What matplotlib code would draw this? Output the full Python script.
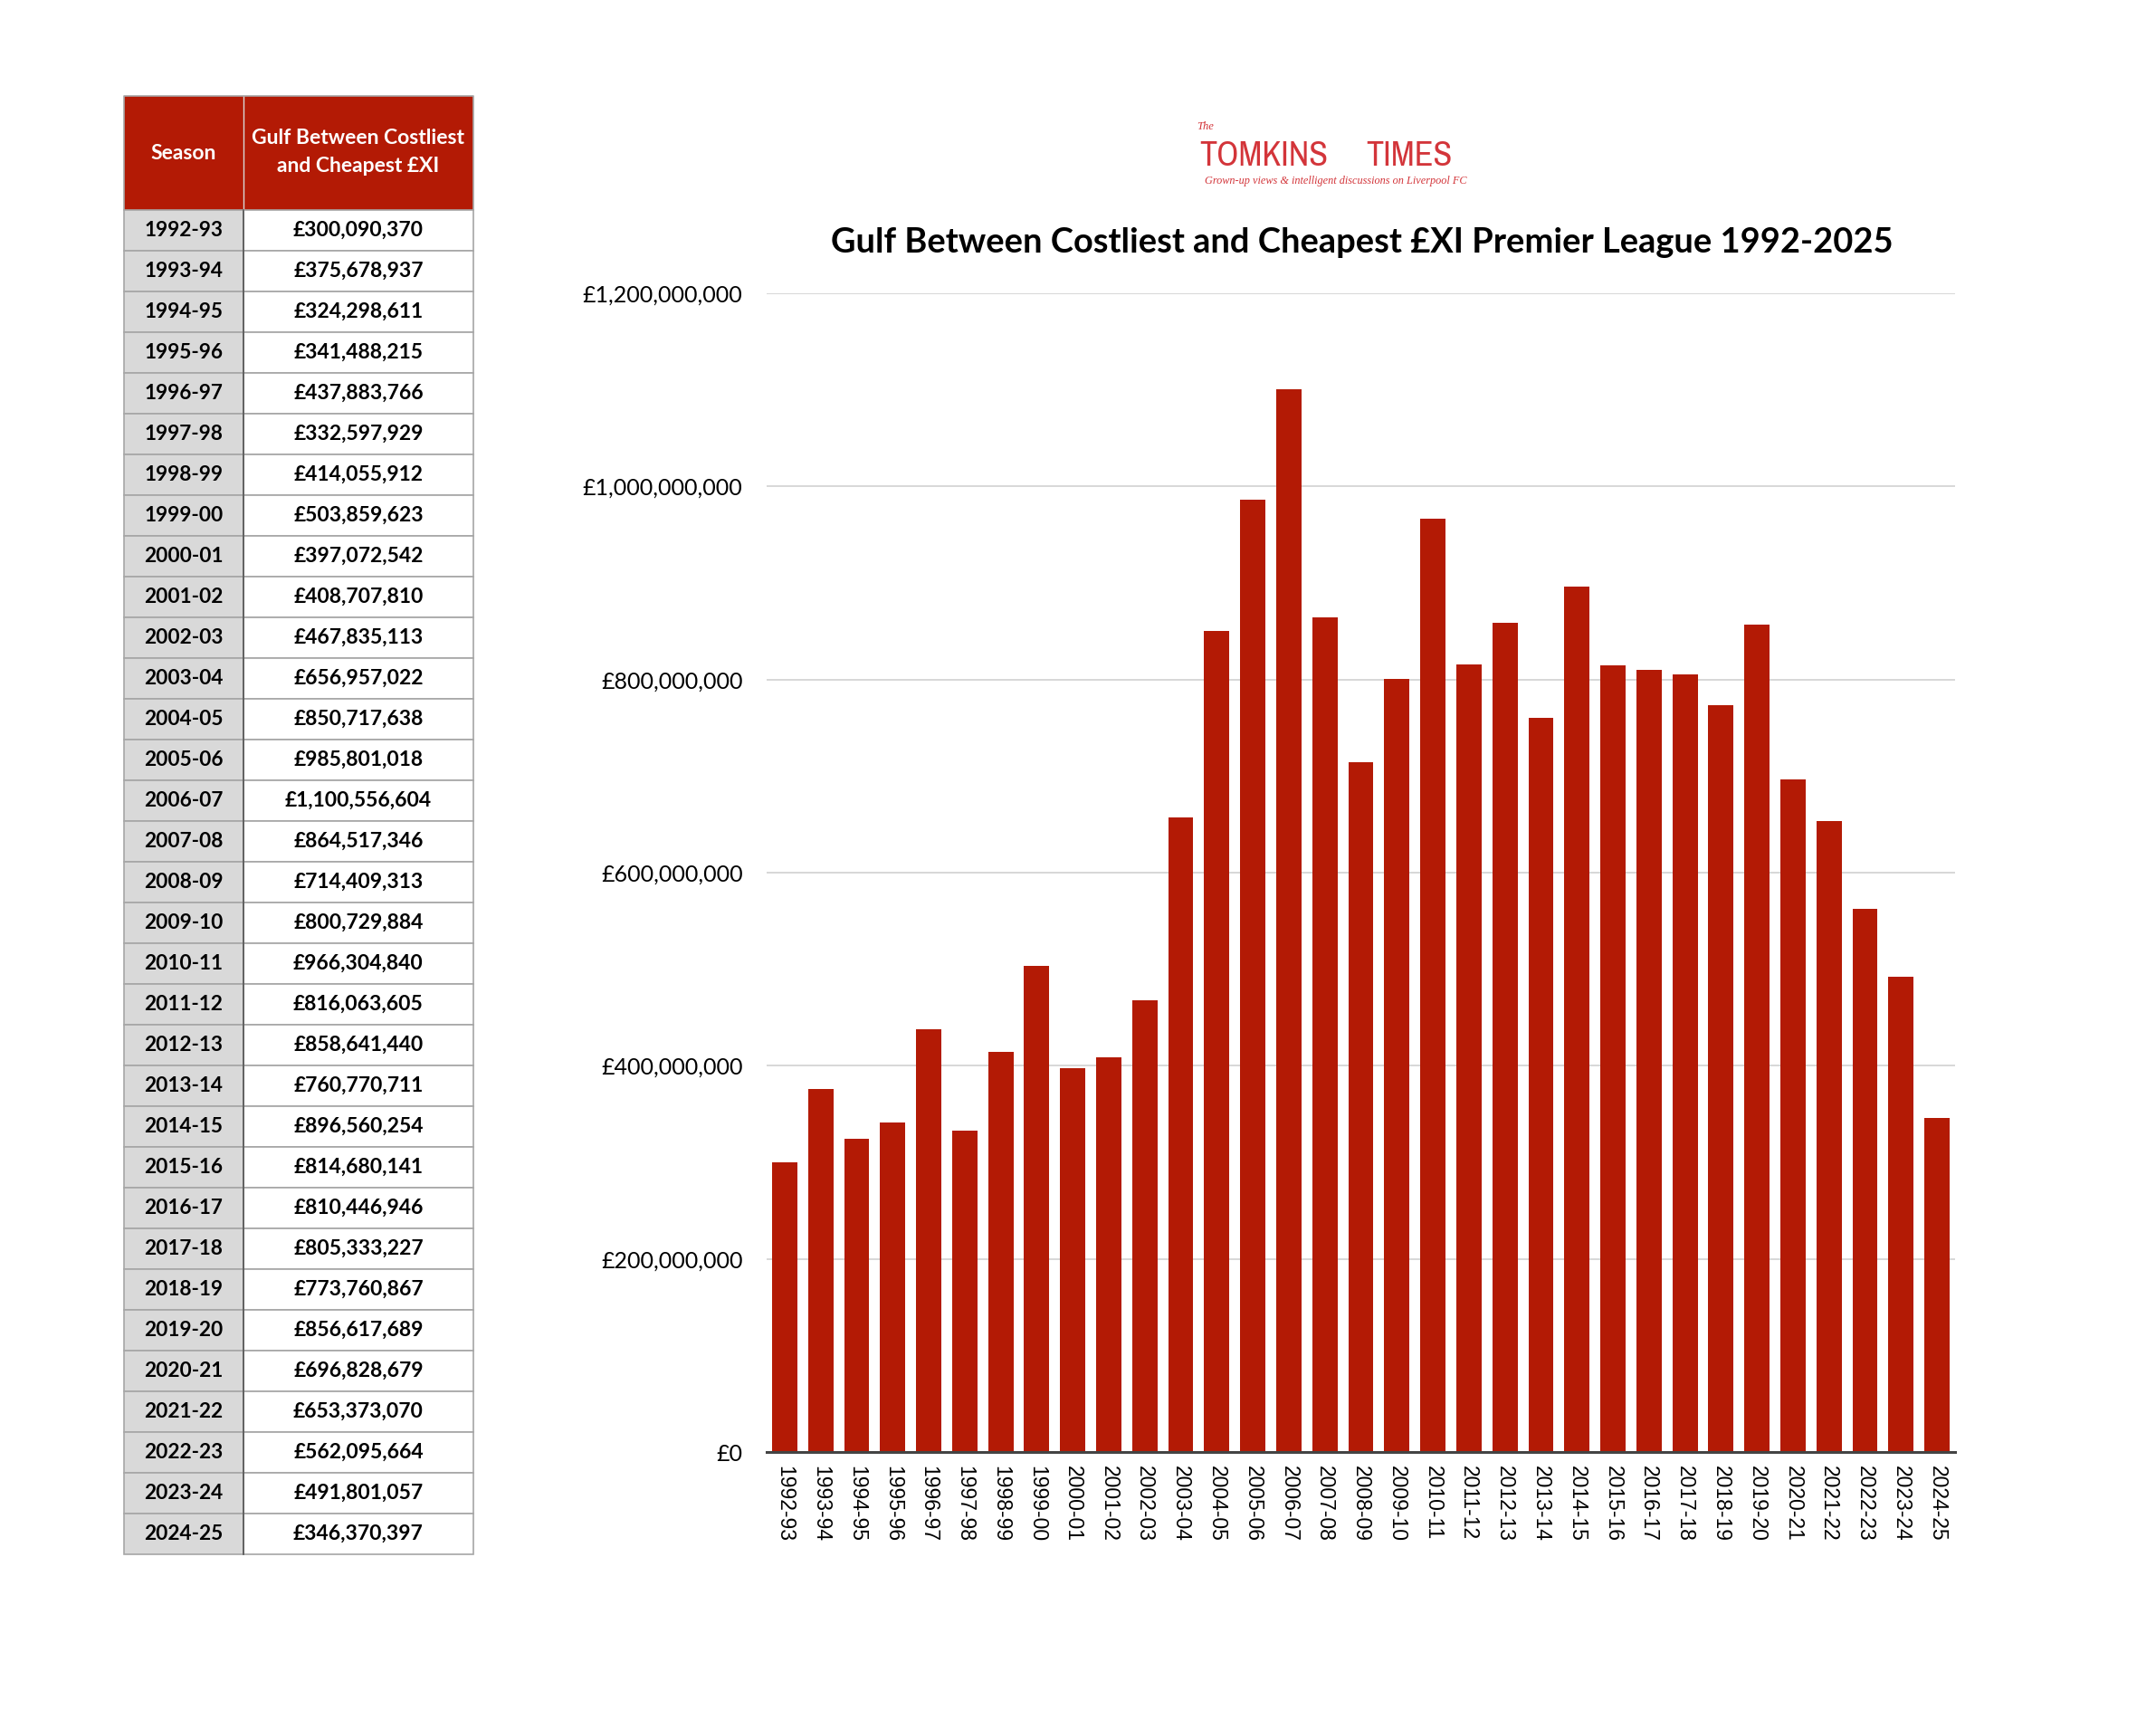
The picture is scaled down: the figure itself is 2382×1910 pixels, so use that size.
import matplotlib
matplotlib.use("Agg")
import matplotlib.pyplot as plt
from matplotlib.patches import Rectangle
from matplotlib.ticker import FuncFormatter, MultipleLocator
from matplotlib import font_manager

seasons = ["1992-93", "1993-94", "1994-95", "1995-96", "1996-97", "1997-98", "1998-99",
           "1999-00", "2000-01", "2001-02", "2002-03", "2003-04", "2004-05", "2005-06",
           "2006-07", "2007-08", "2008-09", "2009-10", "2010-11", "2011-12", "2012-13",
           "2013-14", "2014-15", "2015-16", "2016-17", "2017-18", "2018-19", "2019-20",
           "2020-21", "2021-22", "2022-23", "2023-24", "2024-25"]
gulf = [300090370, 375678937, 324298611, 341488215, 437883766, 332597929, 414055912,
        503859623, 397072542, 408707810, 467835113, 656957022, 850717638, 985801018,
        1100556604, 864517346, 714409313, 800729884, 966304840, 816063605, 858641440,
        760770711, 896560254, 814680141, 810446946, 805333227, 773760867, 856617689,
        696828679, 653373070, 562095664, 491801057, 346370397]

title = "Gulf Between Costliest and Cheapest £XI Premier League 1992-2025"
col_headers = ["Season", "Gulf Between Costliest\nand Cheapest £XI"]

RED = "#b31a05"
W, H = 2382, 1910
fig = plt.figure(figsize=(W / 100, H / 100), dpi=100)
fig.patch.set_facecolor("white")
FONT = ["Lato", "DejaVu Sans"]

# ---------------- bar chart ----------------
L, R, B, T = 847, 2160, 1604, 324
ax = fig.add_axes([L / W, 1 - B / H, (R - L) / W, (B - T) / H])
x = list(range(len(seasons)))
ax.bar(x, gulf, width=0.70, color=RED, zorder=3)
ax.set_xlim(-0.5, len(seasons) - 0.5)
ax.set_ylim(0, 1.2e9)
ax.yaxis.set_major_locator(MultipleLocator(2e8))
ax.yaxis.set_major_formatter(FuncFormatter(lambda v, p: "£{:,.0f}".format(v)))
ax.grid(axis="y", color="#d4d4d4", linewidth=1.3, zorder=0)
ax.set_xticks(x)
ax.set_xticklabels(seasons, rotation=-90, fontsize=16.5, family=["Liberation Sans", "DejaVu Sans"])
for s in ["top", "right", "left"]:
    ax.spines[s].set_visible(False)
ax.spines["bottom"].set_color("#444444")
ax.spines["bottom"].set_linewidth(2.2)
ax.spines["bottom"].set_zorder(4)
ax.tick_params(axis="y", length=0, pad=19, labelsize=18)
ax.tick_params(axis="x", length=0, pad=11)
for lab in ax.get_yticklabels():
    lab.set_family(FONT)

fig.text(1505 / W, 1 - 268 / H, title, ha="center", va="center", fontsize=27.4,
         fontweight="bold", family=FONT)

# ---------------- overlay for table & logo ----------------
ov = fig.add_axes([0, 0, 1, 1], zorder=-1)
ov.set_xlim(0, W)
ov.set_ylim(H, 0)
ov.axis("off")

tx0, tx1, tx2 = 137, 269, 523
ty0, ty1 = 106, 232
rh = 45.0
ov.add_patch(Rectangle((tx0, ty0), tx2 - tx0, ty1 - ty0, facecolor=RED, edgecolor="none"))
ov.plot([tx1, tx1], [ty0, ty1], color="#d9d9d9", lw=1)
ov.plot([tx0, tx0, tx2, tx2], [ty1, ty0, ty0, ty1], color="#a6a6a6", lw=1.2)
ov.text((tx0 + tx1) / 2, (ty0 + ty1) / 2, col_headers[0], ha="center", va="center",
        color="white", fontsize=16.5, fontweight="bold", family=FONT)
ov.text((tx1 + tx2) / 2, (ty0 + ty1) / 2 - 1, col_headers[1], ha="center", va="center",
        color="white", fontsize=16.5, fontweight="bold", family=FONT,
        linespacing=1.55)

for i, (s, v) in enumerate(zip(seasons, gulf)):
    y0 = ty1 + i * rh
    ov.add_patch(Rectangle((tx0, y0), tx1 - tx0, rh, facecolor="#d9d9d9",
                           edgecolor="#a6a6a6", lw=1.2))
    ov.add_patch(Rectangle((tx1, y0), tx2 - tx1, rh, facecolor="white",
                           edgecolor="#a6a6a6", lw=1.2))
    ov.text((tx0 + tx1) / 2, y0 + rh / 2, s, ha="center", va="center", fontsize=16.3,
            fontweight="bold", family=FONT)
    ov.text((tx1 + tx2) / 2, y0 + rh / 2, "£{:,}".format(v), ha="center", va="center",
            fontsize=16.5, fontweight="bold", family=FONT)
yb = ty1 + len(seasons) * rh
ov.plot([tx1, tx1], [ty1, yb], color="#555555", lw=1.2)

# ---------------- logo ----------------
LOGO = "#d3353a"
cond = None
for f in font_manager.fontManager.ttflist:
    nm = f.name.lower()
    if ("condensed" in nm or "narrow" in nm) and f.weight in (400, "normal", "regular", 500):
        cond = f.name
        break
if cond is None:
    for f in font_manager.fontManager.ttflist:
        if str(f.stretch) in ("condensed", "semi-condensed", "extra-condensed") or f.stretch in (300, 400 - 100):
            cond = f.name
            break
logo_family = ([cond] if cond else []) + ["Liberation Sans", "DejaVu Sans"]

ov.text(1322, 140, "The", ha="left", va="center", fontsize=9, style="italic",
        color=LOGO, family=["Liberation Serif", "DejaVu Serif"])
t1 = ov.text(1325, 183, "TOMKINS", ha="left", va="baseline", fontsize=28,
             color=LOGO, family=logo_family)
t2 = ov.text(1604, 183, "TIMES", ha="right", va="baseline", fontsize=28,
             color=LOGO, family=logo_family)
ov.text(1476, 200, "Grown-up views & intelligent discussions on Liverpool FC", ha="center",
        va="center", fontsize=8.8, style="italic", color=LOGO,
        family=["Liberation Serif", "DejaVu Serif"])

fig.canvas.draw()
rend = fig.canvas.get_renderer()
w1 = t1.get_window_extent(rend).width
if w1 > 0:
    fs = 28 * 142.0 / w1
    t1.set_fontsize(fs)
    t2.set_fontsize(fs)

fig.savefig("out.png", dpi=100, facecolor="white")
